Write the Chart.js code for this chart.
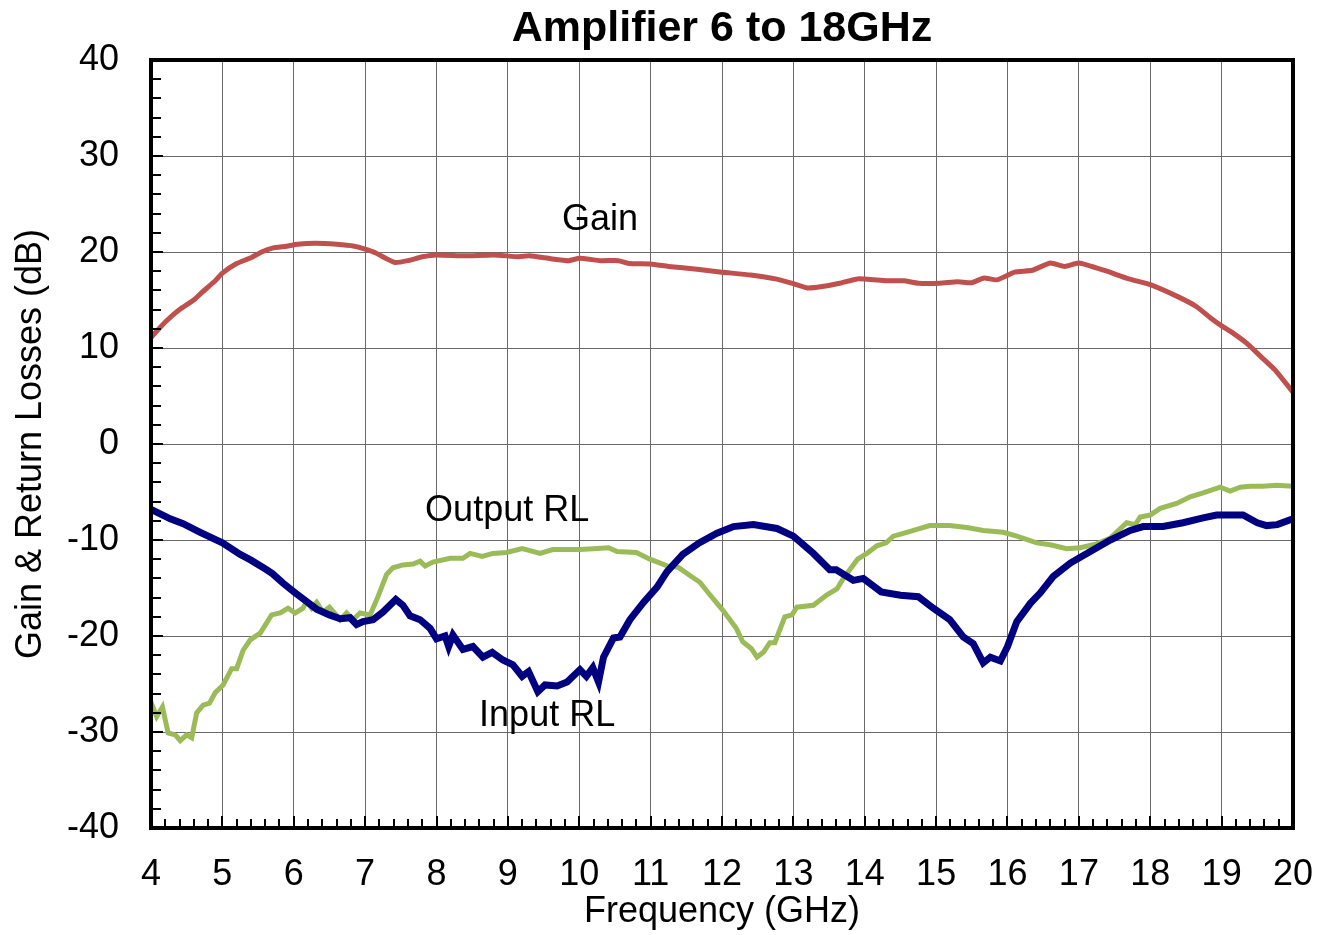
<!DOCTYPE html>
<html>
<head>
<meta charset="utf-8">
<script src="https://cdn.jsdelivr.net/npm/chart.js@4/dist/chart.umd.min.js"></script>
<style>
html,body{margin:0;padding:0;background:#fff;}
#wrap{width:1327px;height:935px;}
</style>
</head>
<body>
<div id="wrap"><canvas id="c" width="1327" height="935"></canvas></div>
<script>
const chartTitle = "Amplifier 6 to 18GHz";
const xAxisTitle = "Frequency (GHz)";
const yAxisTitle = "Gain & Return Losses (dB)";
const xTicks = [4,5,6,7,8,9,10,11,12,13,14,15,16,17,18,19,20];
const yTicks = [-40,-30,-20,-10,0,10,20,30,40];

const gainFreq = [4.0,4.2,4.4,4.6,4.7,4.9,5.0,5.2,5.4,5.55,5.7,5.9,6.05,6.3,6.6,6.85,7.0,7.15,7.3,7.42,7.6,7.8,8.0,8.4,8.8,9.15,9.3,9.6,9.85,10.0,10.3,10.55,10.7,11.0,11.25,11.65,12.0,12.4,12.75,13.0,13.2,13.4,13.65,13.9,14.3,14.55,14.75,15.05,15.3,15.5,15.67,15.85,16.1,16.35,16.6,16.8,17.0,17.35,17.7,18.0,18.4,18.65,18.85,19.0,19.15,19.35,19.55,19.75,20.0];
const gainDb = [11.1,12.7,14.0,15.0,15.7,17.0,17.8,18.8,19.4,20.0,20.4,20.6,20.8,20.9,20.8,20.6,20.3,19.9,19.3,18.9,19.1,19.5,19.7,19.6,19.7,19.5,19.6,19.3,19.1,19.35,19.1,19.1,18.8,18.75,18.5,18.2,17.9,17.6,17.2,16.7,16.25,16.4,16.75,17.2,17.0,17.0,16.75,16.75,16.9,16.8,17.3,17.1,17.9,18.1,18.85,18.5,18.85,18.1,17.2,16.6,15.3,14.3,13.1,12.3,11.6,10.5,9.1,7.7,5.4];

const inFreq = [4.0,4.27,4.45,4.69,5.0,5.25,5.4,5.62,5.7,5.85,6.0,6.18,6.32,6.5,6.65,6.79,6.88,6.97,7.11,7.25,7.43,7.53,7.63,7.77,7.91,8.0,8.12,8.17,8.23,8.37,8.51,8.65,8.78,8.93,9.07,9.2,9.29,9.42,9.52,9.69,9.83,10.01,10.1,10.19,10.27,10.34,10.48,10.57,10.71,10.9,11.09,11.23,11.45,11.68,11.93,12.16,12.44,12.77,13.0,13.28,13.51,13.6,13.84,13.98,14.23,14.5,14.75,14.96,15.19,15.38,15.52,15.66,15.76,15.9,16.0,16.13,16.32,16.46,16.64,16.88,17.16,17.44,17.72,17.9,18.18,18.46,18.74,18.93,19.3,19.5,19.63,19.78,20.0];
const inDb = [-6.8,-7.8,-8.3,-9.2,-10.3,-11.5,-12.1,-13.1,-13.5,-14.5,-15.4,-16.4,-17.2,-17.8,-18.2,-18.1,-18.8,-18.5,-18.3,-17.5,-16.2,-16.8,-17.9,-18.3,-19.2,-20.3,-20.0,-21.1,-19.9,-21.4,-21.1,-22.2,-21.7,-22.5,-23.0,-24.2,-23.7,-25.8,-25.1,-25.2,-24.8,-23.5,-24.2,-23.3,-24.8,-22.2,-20.2,-20.1,-18.3,-16.5,-14.9,-13.3,-11.5,-10.3,-9.3,-8.6,-8.4,-8.8,-9.6,-11.4,-13.1,-13.1,-14.2,-14.0,-15.4,-15.75,-15.9,-17.1,-18.3,-20.1,-20.8,-22.8,-22.2,-22.6,-21.1,-18.5,-16.6,-15.5,-13.8,-12.4,-11.2,-10.0,-9.0,-8.6,-8.6,-8.2,-7.7,-7.4,-7.4,-8.2,-8.5,-8.4,-7.8];

const outFreq = [4.0,4.08,4.16,4.24,4.34,4.41,4.5,4.57,4.64,4.73,4.82,4.9,5.01,5.13,5.2,5.29,5.39,5.53,5.69,5.81,5.92,6.02,6.13,6.18,6.25,6.32,6.41,6.5,6.65,6.74,6.83,6.93,7.07,7.18,7.3,7.39,7.53,7.67,7.77,7.84,7.95,8.19,8.37,8.47,8.64,8.79,8.98,9.2,9.31,9.45,9.63,9.83,10.01,10.2,10.41,10.53,10.8,10.99,11.23,11.39,11.55,11.69,11.83,12.01,12.2,12.29,12.41,12.49,12.58,12.67,12.74,12.88,12.98,13.05,13.28,13.47,13.61,13.7,13.79,13.9,14.03,14.17,14.3,14.4,14.59,14.73,14.91,15.19,15.43,15.66,15.94,16.13,16.41,16.6,16.83,17.02,17.25,17.44,17.67,17.79,17.86,18.0,18.14,18.37,18.56,18.74,18.98,19.12,19.26,19.4,19.58,19.77,20.0];
const outDb = [-26.9,-28.4,-27.4,-30.1,-30.3,-30.9,-30.3,-30.6,-28.0,-27.2,-27.0,-25.9,-25.1,-23.4,-23.4,-21.5,-20.4,-19.7,-17.8,-17.6,-17.1,-17.6,-17.1,-16.4,-17.1,-16.5,-17.5,-17.0,-18.3,-17.6,-18.3,-17.6,-17.8,-15.9,-13.6,-12.9,-12.6,-12.5,-12.2,-12.7,-12.3,-11.9,-11.9,-11.4,-11.7,-11.4,-11.3,-10.9,-11.1,-11.4,-11.0,-11.0,-11.0,-10.9,-10.8,-11.2,-11.3,-12.0,-12.7,-12.85,-13.7,-14.4,-15.7,-17.3,-19.2,-20.6,-21.3,-22.2,-21.7,-20.7,-20.7,-18.0,-17.8,-17.0,-16.8,-15.7,-15.1,-14.0,-13.1,-12.0,-11.4,-10.6,-10.3,-9.6,-9.2,-8.9,-8.5,-8.5,-8.7,-9.0,-9.2,-9.6,-10.3,-10.5,-10.9,-10.8,-10.4,-9.8,-8.2,-8.4,-7.6,-7.4,-6.7,-6.2,-5.5,-5.1,-4.5,-4.9,-4.5,-4.4,-4.4,-4.3,-4.4];

const seriesLabels = ["Gain","Input RL","Output RL"];
const annotations = [
  {text:"Gain", x:10.29, y:23.3},
  {text:"Output RL", x:8.99, y:-7.0},
  {text:"Input RL", x:9.55, y:-28.3}
];

function pts(xs, ys){ return xs.map((x,i)=>({x:x, y:ys[i]})); }

const FONT = "'Liberation Sans', Arial, sans-serif";

const framePlugin = {
  id:'frame',
  afterDatasetsDraw(chart){
    const {ctx, chartArea:a, scales:{x, y}} = chart;
    ctx.save();
    ctx.strokeStyle = '#000';
    ctx.lineWidth = 2;
    ctx.beginPath();
    for (let v = 4; v <= 20.001; v += 0.2) {
      const px = Math.round(x.getPixelForValue(v));
      const isMajor = Math.abs(v - Math.round(v)) < 1e-6;
      const len = isMajor ? 12 : 9;
      ctx.moveTo(px, a.bottom);
      ctx.lineTo(px, a.bottom - len);
    }
    for (let v = -40; v <= 40.001; v += 2) {
      const py = Math.round(y.getPixelForValue(v));
      const isMajor = Math.abs(v % 10) < 1e-6;
      const len = isMajor ? 12 : 10;
      ctx.moveTo(a.left, py);
      ctx.lineTo(a.left + len, py);
    }
    ctx.stroke();
    ctx.lineWidth = 4;
    ctx.strokeRect(a.left, a.top, a.right - a.left, a.bottom - a.top);
    ctx.fillStyle = '#000';
    ctx.font = '36px ' + FONT;
    ctx.textAlign = 'center';
    ctx.textBaseline = 'middle';
    annotations.forEach(an => {
      ctx.fillText(an.text, x.getPixelForValue(an.x), y.getPixelForValue(an.y));
    });
    ctx.restore();
  }
};

new Chart(document.getElementById('c'), {
  type:'line',
  data:{
    datasets:[
      {label:seriesLabels[0], data:pts(gainFreq,gainDb), borderColor:'#C0504D', borderWidth:5, pointRadius:0, tension:0.15, fill:false},
      {label:seriesLabels[1], data:pts(inFreq,inDb), borderColor:'#000080', borderWidth:7, pointRadius:0, tension:0, fill:false},
      {label:seriesLabels[2], data:pts(outFreq,outDb), borderColor:'#9BBB59', borderWidth:5, pointRadius:0, tension:0, fill:false}
    ]
  },
  options:{
    responsive:false,
    animation:false,
    layout:{padding:{left:0, right:34, top:0, bottom:0}},
    plugins:{
      legend:{display:false},
      tooltip:{enabled:false},
      title:{display:true, text:chartTitle, fullSize:false, color:'#000',
        font:{family:FONT, size:43, weight:'bold', lineHeight:1.2},
        padding:{top:3, bottom:5.4}}
    },
    scales:{
      x:{type:'linear', min:4, max:20,
        afterBuildTicks(s){ s.ticks = xTicks.map(v=>({value:v})); },
        afterFit(s){ s.height = 107; s.paddingLeft = 0; s.paddingRight = 0; },
        grid:{color:'#6a6a6a', lineWidth:1, drawTicks:false},
        border:{display:false},
        ticks:{color:'#000', font:{family:FONT, size:36}, padding:25, maxRotation:0, autoSkip:false},
        title:{display:true, text:xAxisTitle, color:'#000', font:{family:FONT, size:36, lineHeight:1.2}, padding:{top:0,bottom:1}}
      },
      y:{type:'linear', min:-40, max:40,
        afterBuildTicks(s){ s.ticks = yTicks.map(v=>({value:v})); },
        afterFit(s){ s.width = 151; s.paddingTop = 0; s.paddingBottom = 0; },
        grid:{color:'#6a6a6a', lineWidth:1, drawTicks:false},
        border:{display:false},
        ticks:{color:'#000', font:{family:FONT, size:36}, padding:32, autoSkip:false},
        title:{display:true, text:yAxisTitle, color:'#000', font:{family:FONT, size:36, lineHeight:1.2}, padding:{top:9,bottom:0}}
      }
    }
  },
  plugins:[framePlugin]
});
</script>
</body>
</html>
